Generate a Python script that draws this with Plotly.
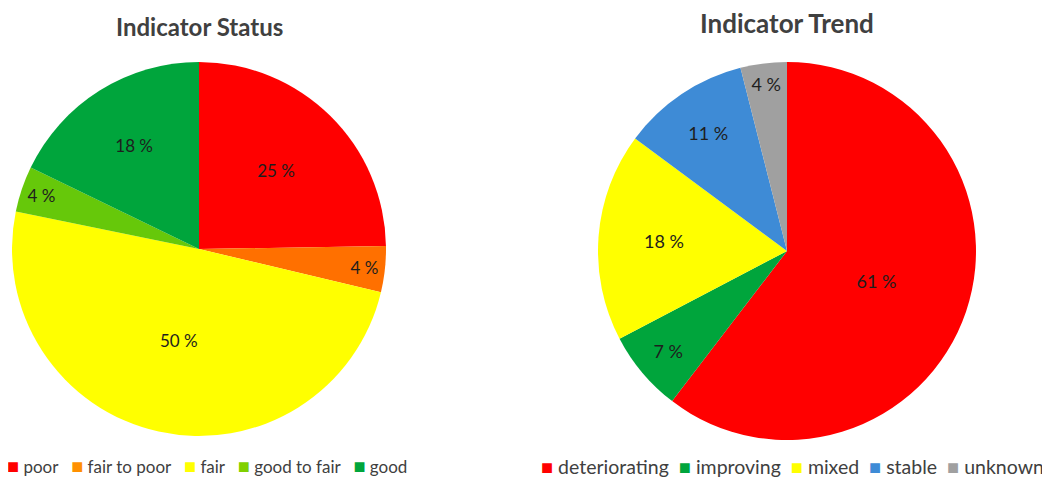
import plotly.graph_objects as go

status_labels = ["poor", "fair to poor", "fair", "good to fair", "good"]
status_values = [25, 4, 50, 4, 18]
status_colors = ["#FF0000", "#FF7000", "#FFFF00", "#66C80A", "#00A53C"]
status_legend_colors = ["#FF0000", "#FF9000", "#FFFF00", "#80D000", "#00A53C"]

trend_labels = ["deteriorating", "improving", "mixed", "stable", "unknown"]
trend_values = [61, 7, 18, 11, 4]
trend_colors = ["#FF0000", "#00A53C", "#FFFF00", "#3E8BD6", "#A0A0A0"]

FONT = "Lato"
TXT = "#404040"
OFF = 8  # default page body margin
W, H = 1050 - OFF, 479 - OFF


def px(x):
    return (x - OFF) / W


def py(y):
    return 1 - (y - OFF) / H


fig = go.Figure()
fig.add_trace(go.Pie(
    labels=status_labels, values=status_values,
    marker=dict(colors=status_colors, line=dict(width=0)),
    sort=False, direction="clockwise", rotation=0,
    texttemplate="%{value} %", textposition="inside",
    insidetextorientation="horizontal",
    textfont=dict(family=FONT, size=17, color="#1E1E1E"),
    domain=dict(x=[px(12), px(386)], y=[py(436), py(62)]),
    showlegend=False, hoverinfo="label+value",
))
fig.add_trace(go.Pie(
    labels=trend_labels, values=trend_values,
    marker=dict(colors=trend_colors, line=dict(width=0)),
    sort=False, direction="clockwise", rotation=0,
    texttemplate="%{value} %", textposition="inside",
    insidetextorientation="horizontal",
    textfont=dict(family=FONT, size=18, color="#1E1E1E"),
    domain=dict(x=[px(598), px(976)], y=[py(440), py(62)]),
    showlegend=False, hoverinfo="label+value",
))


def legend_text(labels, colors, sq, gap):
    nb = "\u00a0"
    parts = []
    for lab, col in zip(labels, colors):
        parts.append(f'<span style="color:{col};font-size:{sq}px">■</span>{nb}{lab}')
    return (nb * gap).join(parts)


fig.update_layout(
    width=W, height=H,
    margin=dict(l=0, r=0, t=0, b=0, autoexpand=False),
    paper_bgcolor="white", plot_bgcolor="white",
    font=dict(family=FONT, color=TXT),
    showlegend=False,
    annotations=[
        dict(text="<b>Indicator Status</b>", x=px(199), y=py(27), xref="paper", yref="paper",
             xanchor="center", yanchor="middle", showarrow=False,
             font=dict(family=FONT, size=24, color=TXT)),
        dict(text="<b>Indicator Trend</b>", x=px(787), y=py(23), xref="paper", yref="paper",
             xanchor="center", yanchor="middle", showarrow=False,
             font=dict(family=FONT, size=26, color=TXT)),
        dict(text=legend_text(status_labels, status_legend_colors, 20, 3), x=px(207), y=py(465),
             xref="paper", yref="paper", xanchor="center", yanchor="middle", showarrow=False,
             font=dict(family=FONT, size=17, color=TXT)),
        dict(text=legend_text(trend_labels, trend_colors, 20, 2), x=px(792), y=py(466),
             xref="paper", yref="paper", xanchor="center", yanchor="middle", showarrow=False,
             font=dict(family=FONT, size=19.5, color=TXT)),
    ],
)

fig.write_html("out.html")
